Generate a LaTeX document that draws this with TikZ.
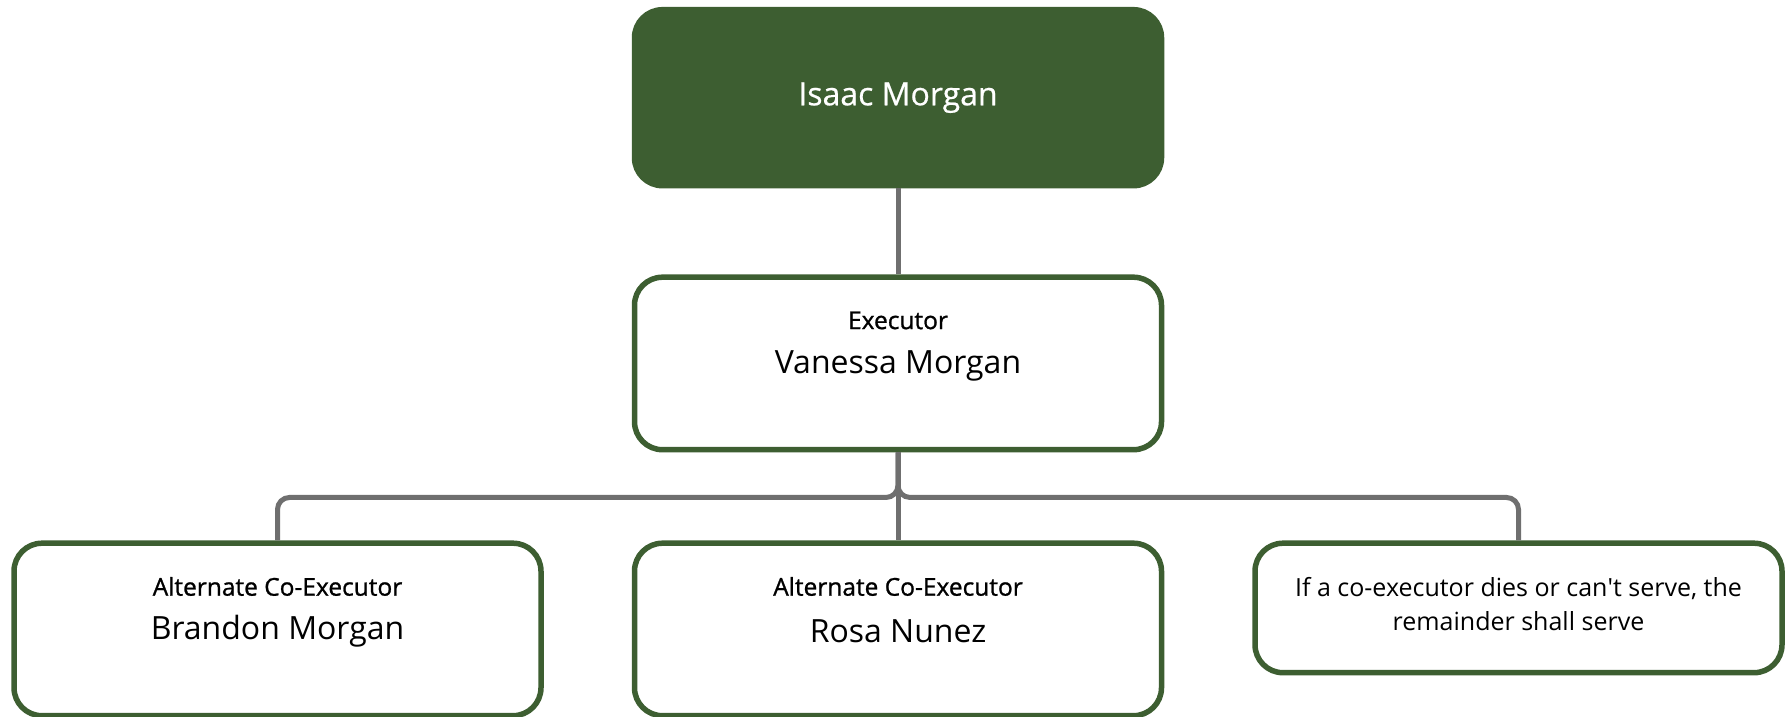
\documentclass[tikz,border=0pt]{standalone}
\usepackage{fontspec}
\setmainfont{Open Sans}
\usetikzlibrary{positioning}
\definecolor{willgreen}{HTML}{3D5E31}
\definecolor{linkgray}{HTML}{6F6F6F}

\begin{document}
\begin{tikzpicture}[x=1pt,y=-1pt,node distance=88pt,
                    box/.style={rectangle,rounded corners=28pt,draw=willgreen,line width=5.5pt,minimum width=527pt,inner sep=0pt},
                    top node/.style={box,fill=willgreen,text=white,minimum height=176pt,
                                     font=\fontsize{32}{38}\selectfont\addfontfeature{FakeBold=0.6}},
                    role node/.style={box,fill=white,minimum height=172.5pt},
                    note node/.style={box,fill=white,minimum height=129.5pt},
                    note text/.style={align=center,font=\fontsize{25}{34.5}\selectfont},
                    role text/.style={font=\fontsize{24.5}{28}\selectfont\addfontfeature{FakeBold=1}},
                    person text/.style={font=\fontsize{32}{38}\selectfont},
                    link/.style={draw=linkgray,line width=5pt,rounded corners=12pt}]

  \useasboundingbox (0,0) rectangle (1791,717);

  \node[top node] (isaac) at (898,97.7) {Isaac Morgan};
  \node[role node] (vanessa) [below=86pt of isaac] {};
  \node[role node] (rosa) [below=of vanessa] {};
  \node[role node] (brandon) [left=of rosa] {};
  \node[note node] (remainder) [right=of rosa.north east,anchor=north west] {};

  \node[role text] (vanessa-role) at ([yshift=-46pt]vanessa.north) {Executor};
  \node[person text] (vanessa-name) at ([yshift=-91pt]vanessa.north) {Vanessa Morgan};
  \node[role text] (brandon-role) at ([yshift=-46pt]brandon.north) {Alternate Co-Executor};
  \node[person text] (brandon-name) at ([yshift=-91pt]brandon.north) {Brandon Morgan};
  \node[role text] (rosa-role) at ([yshift=-46pt]rosa.north) {Alternate Co-Executor};
  \node[person text] (rosa-name) at ([yshift=-91pt]rosa.north) {Rosa Nunez};
  \node[note text] (remainder-text) at ([yshift=4pt]remainder.center)
    {If a co-executor dies or can\textquotesingle t serve, the\\remainder shall serve};

  \coordinate (fork) at ([yshift=-45pt]vanessa.south);

  \draw[link] (isaac) -- (vanessa);
  \draw[link] (vanessa) -- (rosa);
  \draw[link] (vanessa.south) -- (fork) -| (brandon.north);
  \draw[link] (vanessa.south) -- (fork) -| (remainder.north);
\end{tikzpicture}
\end{document}
